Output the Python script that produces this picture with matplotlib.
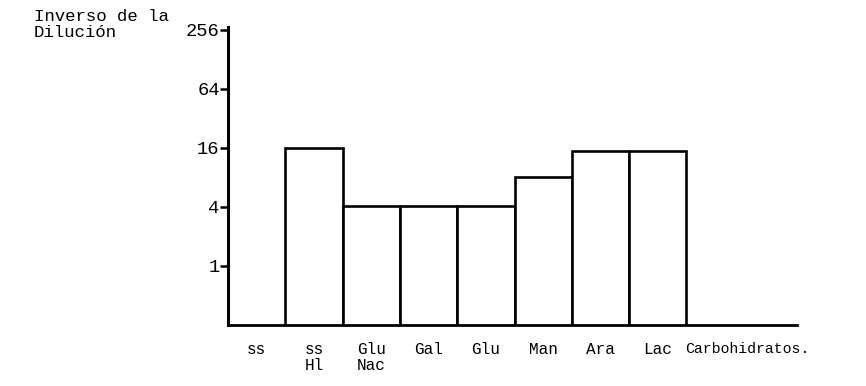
import matplotlib.pyplot as plt
import numpy as np

# carbohidratos y inverso de la dilucion (escala log2)
categories = ["ss", "ss\nHl", "Glu\nNac", "Gal", "Glu", "Man", "Ara", "Lac"]
values = [np.nan, 16, 4.1, 4.1, 4.1, 8, 15, 15]
yticks = [1, 4, 16, 64, 256]

plt.rcParams['font.family'] = ['Liberation Mono', 'DejaVu Sans Mono']

fig = plt.figure(figsize=(8.66, 3.86), dpi=100)
ax = fig.add_axes([228/866, 61/386, (797-228)/866, (359-61)/386])

x = np.arange(len(categories))
ax.bar(x, values, width=1.0, color="white", edgecolor="black", linewidth=1.9)

ax.set_yscale("log", base=2)
ax.set_ylim(0.25, 274)
ax.set_xlim(-0.5, 9.43)
ax.set_yticks(yticks)
ax.set_yticklabels([str(t) for t in yticks], fontsize=13.5)
ax.minorticks_off()
ax.tick_params(axis="y", direction="out", length=6, width=1.8, pad=0)

ax.set_xticks(x)
ax.set_xticklabels(categories, fontsize=11.5, linespacing=1.15)
ax.tick_params(axis="x", length=0, pad=12)

for s in ["top", "right"]:
    ax.spines[s].set_visible(False)
ax.spines["left"].set_linewidth(2.2)
ax.spines["bottom"].set_linewidth(2.0)

fig.text(685/866, 1 - 342/386, "Carbohidratos.", fontsize=10.7, va="top", ha="left")
fig.text(34/866, 1 - 9/386, "Inverso de la\nDilución", fontsize=12.5, va="top", ha="left",
         linespacing=1.05)

plt.savefig("out.png", dpi=100)
